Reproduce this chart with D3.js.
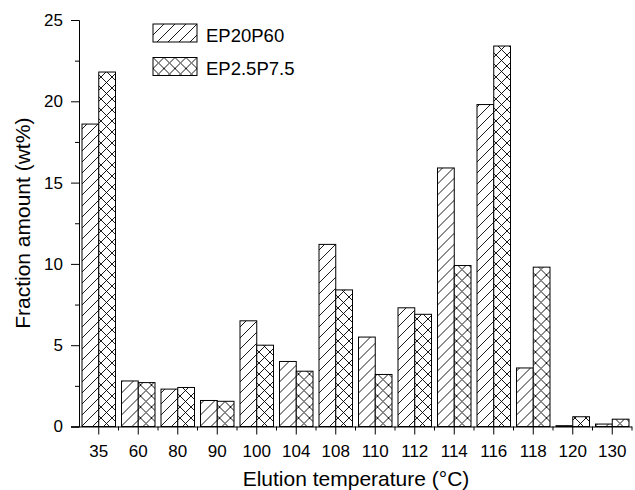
<!DOCTYPE html>
<meta charset="utf-8">
<head>
	<title>Fraction amount</title>
	<script src="https://d3js.org/d3.v7.min.js"></script>
</head>
<style>
	body { margin: 0; background: #fff; }
	svg text { font-family: "Liberation Sans", Arial, sans-serif; fill: #000; }
</style>
<body>
<div id="chart"></div>
<script>
	// elution temperatures (°C)
	var categories = ["35","60","80","90","100","104","108","110","112","114","116","118","120","130"];
	var seriesNames = ["EP20P60", "EP2.5P7.5"];
	var ep20p60 = [18.6, 2.8, 2.3, 1.6, 6.5, 4.0, 11.2, 5.5, 7.3, 15.9, 19.8, 3.6, 0.05, 0.15];
	var ep25p75 = [21.8, 2.7, 2.4, 1.55, 5.0, 3.4, 8.4, 3.2, 6.9, 9.9, 23.4, 9.8, 0.6, 0.45];
	var yTicks = [0, 5, 10, 15, 20, 25];

	var W = 635, H = 490;
	var mLeft = 79, mRight = 632, mTop = 20, mBottom = 426.5;

	var svg = d3.select("#chart").append("svg")
		.attr("width", W).attr("height", H);

	var defs = svg.append("defs");
	var p1 = defs.append("pattern").attr("id", "hatch")
		.attr("patternUnits", "userSpaceOnUse").attr("width", 11).attr("height", 11);
	p1.append("rect").attr("width", 11).attr("height", 11).attr("fill", "#fff");
	p1.append("path").attr("d", "M-1,1 L1,-1 M0,11 L11,0 M10,12 L12,10")
		.attr("stroke", "#000").attr("stroke-width", 0.9);
	var p2 = defs.append("pattern").attr("id", "cross")
		.attr("patternUnits", "userSpaceOnUse").attr("width", 11).attr("height", 11);
	p2.append("rect").attr("width", 11).attr("height", 11).attr("fill", "#fff");
	p2.append("path").attr("d", "M-1,1 L1,-1 M0,11 L11,0 M10,12 L12,10 M-1,10 L1,12 M0,0 L11,11 M10,-1 L12,1")
		.attr("stroke", "#000").attr("stroke-width", 0.9);

	var x = d3.scaleBand().domain(categories).range([mLeft, mRight]).padding(0);
	var inner = d3.scaleBand().domain(seriesNames).range([3, x.bandwidth() - 3]).padding(0);
	var y = d3.scaleLinear().domain([0, 25]).range([mBottom, mTop]);

	var rows = categories.map(function(c, i) {
		return { cat: c, vals: [ep20p60[i], ep25p75[i]] };
	});
	var fills = ["url(#hatch)", "url(#cross)"];

	var g = svg.selectAll(".grp").data(rows).enter().append("g")
		.attr("transform", function(d) { return "translate(" + x(d.cat) + ",0)"; });
	g.selectAll("rect").data(function(d) {
		return d.vals.map(function(v, j) { return { name: seriesNames[j], v: v, j: j }; });
	}).enter().append("rect")
		.attr("x", function(d) { return inner(d.name); })
		.attr("width", inner.bandwidth())
		.attr("y", function(d) { return y(d.v); })
		.attr("height", function(d) { return mBottom - y(d.v); })
		.attr("fill", function(d) { return fills[d.j]; })
		.attr("stroke", "#000").attr("stroke-width", 1);

	// y axis
	var yAxis = svg.append("g").attr("transform", "translate(" + mLeft + ",0)")
		.call(d3.axisLeft(y).tickValues(yTicks).tickSize(8).tickPadding(8));
	svg.append("g").attr("transform", "translate(" + mLeft + ",0)")
		.call(d3.axisLeft(y).tickValues([2.5, 7.5, 12.5, 17.5, 22.5]).tickSize(4).tickFormat(""))
		.select(".domain").remove();
	yAxis.selectAll("text").style("font-size", "17px");

	// x axis
	var xAxis = svg.append("g").attr("transform", "translate(0," + mBottom + ")")
		.call(d3.axisBottom(x).tickSize(8).tickPadding(10).tickSizeOuter(0));
	xAxis.select(".domain").attr("d", "M" + (mLeft - 8) + ",0.5H" + mRight);
	xAxis.selectAll("text").style("font-size", "17px");
	var edges = categories.map(function(c) { return x(c); }).concat([mRight]);
	svg.append("g").selectAll("line").data(edges.slice(1)).enter().append("line")
		.attr("x1", function(d) { return d; }).attr("x2", function(d) { return d; })
		.attr("y1", mBottom).attr("y2", mBottom + 4)
		.attr("stroke", "#000");

	svg.selectAll(".domain, .tick line").attr("stroke", "#000");

	// axis titles
	svg.append("text").attr("x", 356).attr("y", 486)
		.attr("text-anchor", "middle").style("font-size", "21px")
		.text("Elution temperature (°C)");
	svg.append("text").attr("transform", "translate(30," + ((mTop + mBottom) / 2) + ") rotate(-90)")
		.attr("text-anchor", "middle").style("font-size", "21px")
		.text("Fraction amount (wt%)");

	// legend
	var legend = svg.append("g").attr("transform", "translate(153,24)");
	var li = legend.selectAll("g").data(seriesNames).enter().append("g")
		.attr("transform", function(d, i) { return "translate(0," + (i * 33.5) + ")"; });
	li.append("rect").attr("width", 44).attr("height", 18)
		.attr("fill", function(d, i) { return fills[i]; })
		.attr("stroke", "#000").attr("stroke-width", 1);
	li.append("text").attr("x", 53).attr("y", 17.5).style("font-size", "18.5px")
		.text(function(d) { return d; });
</script>
</body>
</html>
